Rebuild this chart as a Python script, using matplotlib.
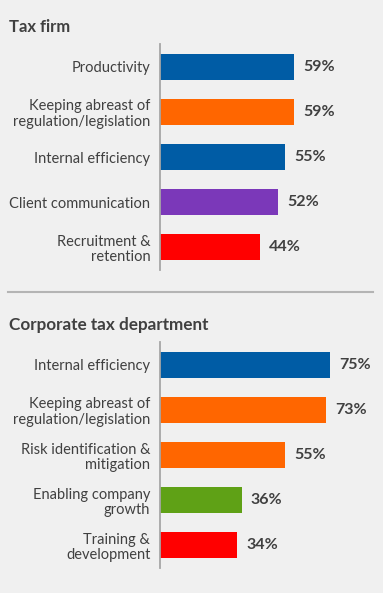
import matplotlib.pyplot as plt

plt.rcParams['font.family'] = ['Lato', 'DejaVu Sans']

# Tax firm data
firm_labels = ['Productivity', 'Keeping abreast of\nregulation/legislation',
               'Internal efficiency', 'Client communication',
               'Recruitment &\nretention']
firm_values = [59, 59, 55, 52, 44]
firm_colors = ['#005ca5', '#ff6600', '#005ca5', '#7b38b9', '#ff0000']

# Corporate tax department data
corp_labels = ['Internal efficiency', 'Keeping abreast of\nregulation/legislation',
               'Risk identification &\nmitigation', 'Enabling company\ngrowth',
               'Training &\ndevelopment']
corp_values = [75, 73, 55, 36, 34]
corp_colors = ['#005ca5', '#ff6600', '#ff6600', '#5fa116', '#ff0000']

bg = '#f0f0f0'
txt = '#404040'
W, H = 383, 593
px_per_pct = 2.27

fig = plt.figure(figsize=(W / 100, H / 100), dpi=100, facecolor=bg)


def panel(top_px, labels, values, colors):
    left = 160
    ax = fig.add_axes([left / W, 1 - (top_px + 226) / H, (W - left) / W, 226 / H])
    ax.set_facecolor(bg)
    ax.patch.set_alpha(0)
    y = range(len(values))
    ax.barh(y, values, height=0.58, color=colors)
    ax.set_xlim(0, (W - left) / px_per_pct)
    ax.set_ylim(len(values) - 0.49, -0.51)
    for s in ['top', 'right', 'bottom']:
        ax.spines[s].set_visible(False)
    ax.spines['left'].set_color('#a6a6a6')
    ax.spines['left'].set_linewidth(1.3)
    ax.set_xticks([])
    ax.set_yticks(list(y))
    ax.set_yticklabels(labels, fontsize=10.5, color=txt, linespacing=1.1)
    ax.tick_params(axis='y', length=0, pad=7)
    for i, v in enumerate(values):
        ax.text(v + 4, i, f'{v}%', va='center', ha='left', fontsize=11.5,
                fontweight='bold', color=txt)
    return ax


panel(44, firm_labels, firm_values, firm_colors)
panel(342, corp_labels, corp_values, corp_colors)

fig.text(9 / W, 1 - 32 / H, 'Tax firm', fontsize=12, fontweight='bold',
         color=txt, va='baseline')
fig.text(9 / W, 1 - 330 / H, 'Corporate tax department', fontsize=12.3,
         fontweight='bold', color=txt, va='baseline')

# separator line between the two panels
fig.add_artist(plt.Line2D([8 / W, 373 / W], [1 - 292 / H, 1 - 292 / H],
                          color='#b4b4b4', linewidth=1.5))

plt.savefig('out.png', dpi=100, facecolor=bg)
